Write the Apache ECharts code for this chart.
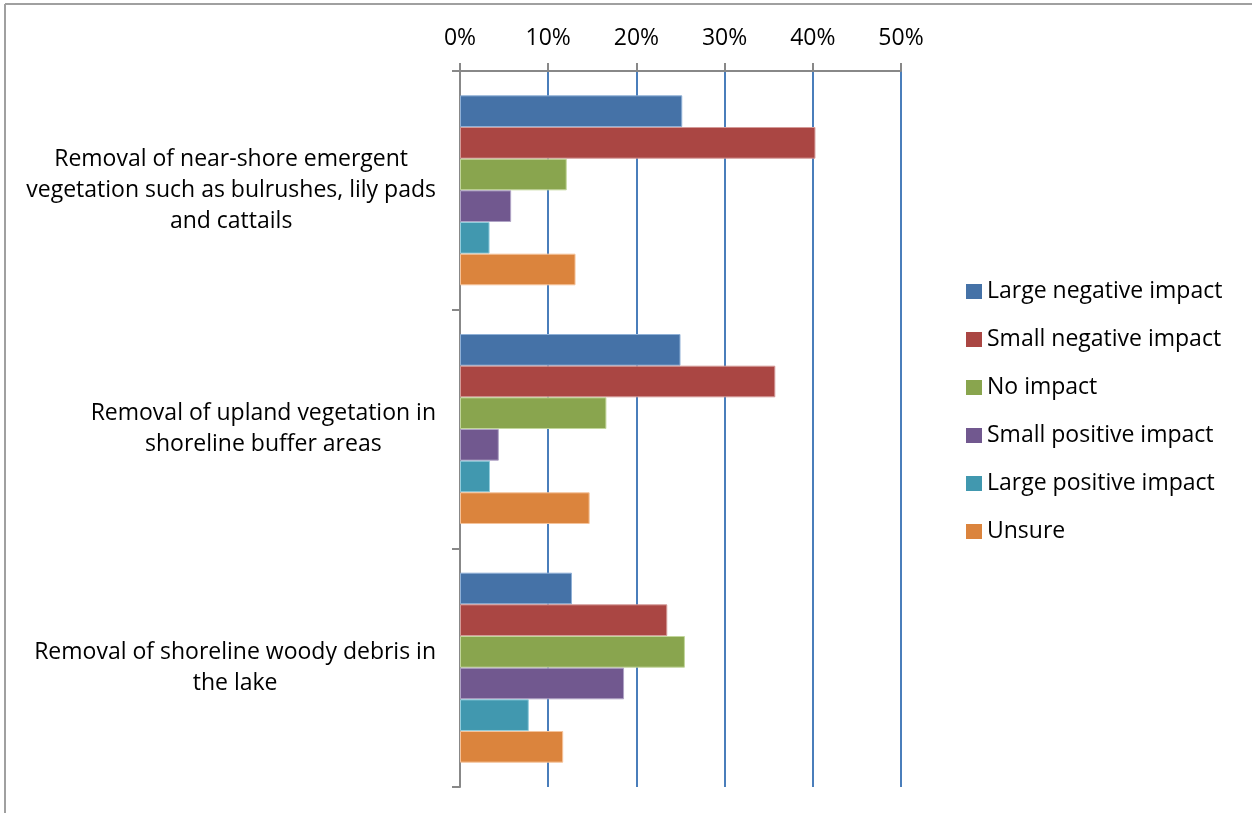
<!DOCTYPE html>
<html>
<head>
<meta charset="utf-8">
<script src="https://cdn.jsdelivr.net/npm/echarts@6/dist/echarts.min.js"></script>
<style>
html,body{margin:0;padding:0;background:#fff;}
#chart{width:1252px;height:813px;}
</style>
</head>
<body>
<div id="chart"></div>
<script>
const categories = [
  'Removal of near-shore emergent\nvegetation such as bulrushes, lily pads\nand cattails',
  'Removal of upland vegetation in\nshoreline buffer areas',
  'Removal of shoreline woody debris in\nthe lake'
];
const seriesNames = ['Large negative impact','Small negative impact','No impact','Small positive impact','Large positive impact','Unsure'];
const largeNegative = [25.2, 25.0, 12.7];
const smallNegative = [40.3, 35.75, 23.5];
const noImpact = [12.1, 16.6, 25.5];
const smallPositive = [5.8, 4.4, 18.6];
const largePositive = [3.35, 3.4, 7.8];
const unsure = [13.1, 14.7, 11.7];
const xTicks = [0, 10, 20, 30, 40, 50];

const colors = ['#4572a7','#aa4643','#89a54e','#71588f','#4198af','#db843d'];
const borders = ['#8fb0d6','#d49a98','#c2d69c','#b0a3c5','#93cddd','#f5c39b'];
const values = [largeNegative, smallNegative, noImpact, smallPositive, largePositive, unsure];
const FONT = '"Open Sans", sans-serif';
const FS = 23;

const chart = echarts.init(document.getElementById('chart'), null, {renderer:'canvas'});
chart.setOption({
  animation: false,
  backgroundColor: '#fff',
  textStyle: {fontFamily: FONT},
  graphic: [
    {type:'line', shape:{x1:5,y1:4,x2:1260,y2:4}, style:{stroke:'#a0a0a0', lineWidth:2}, silent:true},
    {type:'line', shape:{x1:5,y1:4,x2:5,y2:820}, style:{stroke:'#a0a0a0', lineWidth:2}, silent:true}
  ],
  grid: {left:460, right:351, top:71, bottom:26, containLabel:false},
  legend: {
    orient:'vertical', left:966, top:280, padding:0,
    itemWidth:16, itemHeight:15, itemGap:25, itemTextGap:6,
    icon:'rect',
    itemStyle:{borderWidth:0},
    textStyle:{fontFamily:FONT, fontSize:FS, color:'#000', lineHeight:20},
    data: seriesNames
  },
  xAxis: {
    type:'value', position:'top', min:xTicks[0], max:xTicks[xTicks.length-1], interval:10,
    axisLine:{show:true, lineStyle:{color:'#888', width:2}},
    axisTick:{show:true, length:8, lineStyle:{color:'#888', width:2}},
    axisLabel:{formatter:'{value}%', fontFamily:FONT, fontSize:FS, color:'#000', margin:21},
    splitLine:{show:true, lineStyle:{color:'#4a7ebb', width:2}}
  },
  yAxis: {
    type:'category', inverse:true, data:categories,
    axisLine:{show:true, lineStyle:{color:'#888', width:2}},
    axisTick:{show:true, length:8, lineStyle:{color:'#888', width:2}},
    axisLabel:{
      margin:24, align:'right',
      formatter: function(v){ return v.split('\n').map(s => '{a|' + s + '}').join('\n'); },
      rich:{a:{fontFamily:FONT, fontSize:FS, color:'#000', lineHeight:31, align:'center'}}
    },
    splitLine:{show:false}
  },
  series: seriesNames.map((n,i)=>({
    name:n, type:'bar', data:values[i],
    barGap:'0%', barCategoryGap:'20.4%',
    itemStyle:{color:colors[i], borderColor:borders[i], borderWidth:1}
  }))
});
</script>
</body>
</html>
